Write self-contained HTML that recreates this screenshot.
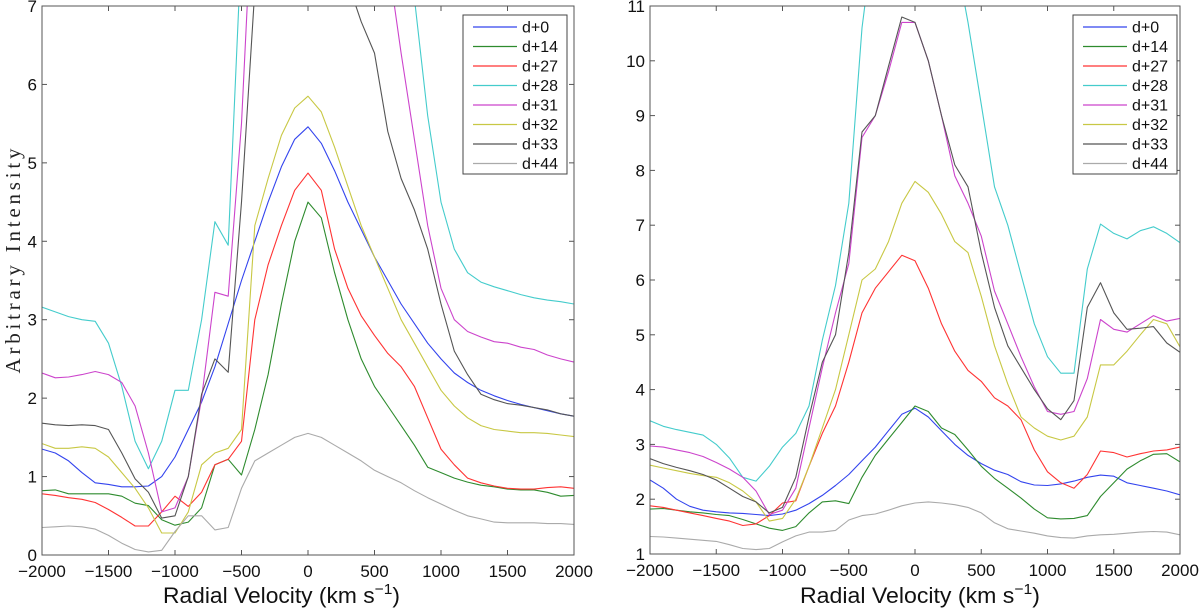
<!DOCTYPE html>
<html><head><meta charset="utf-8"><style>
html,body{margin:0;padding:0;background:#fff;}
svg{display:block;font-family:"Liberation Sans",sans-serif;}
</style></head><body>
<svg id="chart" width="1200" height="611" viewBox="0 0 1200 611" xmlns="http://www.w3.org/2000/svg">
<text x="0" y="0" transform="translate(20,261) rotate(-90)" text-anchor="middle" font-family="Liberation Serif, serif" font-size="21" textLength="225" lengthAdjust="spacing" fill="#222">Arbitrary Intensity</text>
<text x="163" y="603" font-size="22" textLength="237" lengthAdjust="spacingAndGlyphs" fill="#111">Radial Velocity (km s<tspan dy="-9" font-size="15">−1</tspan><tspan dy="9">)</tspan></text>
<text x="800" y="603" font-size="22" textLength="240" lengthAdjust="spacingAndGlyphs" fill="#111">Radial Velocity (km s<tspan dy="-9" font-size="15">−1</tspan><tspan dy="9">)</tspan></text>
</svg>
<script>
const velocities=[-2000,-1900,-1800,-1700,-1600,-1500,-1400,-1300,-1200,-1100,-1000,-900,-800,-700,-600,-500,-400,-300,-200,-100,0,100,200,300,400,500,600,700,800,900,1000,1100,1200,1300,1400,1500,1600,1700,1800,1900,2000];
const seriesLabels=["d+0","d+14","d+27","d+28","d+31","d+32","d+33","d+44"];
const xTicks=[-2000,-1500,-1000,-500,0,500,1000,1500,2000];
const yTicksLeft=[0,1,2,3,4,5,6,7];
const yTicksRight=[1,2,3,4,5,6,7,8,9,10,11];
// left panel
const L_d0=[1.35,1.3,1.2,1.05,0.92,0.9,0.87,0.87,0.88,1.0,1.25,1.6,1.95,2.4,2.95,3.5,4.0,4.5,4.95,5.3,5.46,5.25,4.9,4.5,4.15,3.8,3.5,3.2,2.95,2.7,2.5,2.32,2.2,2.1,2.03,1.97,1.92,1.88,1.84,1.8,1.77];
const L_d14=[0.82,0.83,0.78,0.78,0.78,0.78,0.75,0.66,0.63,0.45,0.38,0.42,0.6,1.15,1.22,1.02,1.6,2.3,3.2,4.0,4.5,4.3,3.6,3.0,2.5,2.15,1.9,1.65,1.4,1.12,1.05,0.98,0.93,0.89,0.87,0.84,0.83,0.83,0.8,0.75,0.76];
const L_d27=[0.78,0.76,0.73,0.71,0.67,0.58,0.48,0.37,0.37,0.55,0.75,0.62,0.8,1.15,1.22,1.45,3.0,3.7,4.2,4.65,4.87,4.65,3.9,3.4,3.05,2.8,2.57,2.4,2.15,1.75,1.35,1.15,0.98,0.92,0.88,0.85,0.84,0.84,0.86,0.87,0.85];
const L_d28=[3.16,3.1,3.04,3.0,2.98,2.7,2.15,1.45,1.1,1.45,2.1,2.1,3.0,4.25,3.95,7.8,10,11,12,12,12,12,12,11.5,11,10.5,10,9,7.1,5.6,4.5,3.9,3.6,3.48,3.42,3.37,3.32,3.28,3.25,3.23,3.2];
const L_d31=[2.32,2.26,2.27,2.3,2.34,2.3,2.2,1.9,1.3,0.55,0.6,1.0,2.0,3.35,3.3,5.5,9,11,12,12,12,12,11.5,11,10,9,7.6,6.4,5.3,4.2,3.4,3.0,2.85,2.78,2.72,2.7,2.65,2.62,2.55,2.5,2.46];
const L_d32=[1.42,1.36,1.36,1.38,1.36,1.25,1.05,0.85,0.6,0.28,0.28,0.55,1.15,1.3,1.36,1.6,4.2,4.8,5.35,5.7,5.85,5.65,5.2,4.7,4.2,3.8,3.4,3.0,2.7,2.4,2.1,1.9,1.75,1.65,1.6,1.58,1.56,1.56,1.55,1.53,1.51];
const L_d33=[1.68,1.66,1.65,1.66,1.65,1.6,1.3,0.97,0.8,0.47,0.5,1.0,2.05,2.5,2.33,4.5,7.2,9,10,10,10,9,8,7.3,6.8,6.4,5.4,4.8,4.4,3.9,3.2,2.6,2.3,2.05,1.98,1.93,1.91,1.88,1.85,1.8,1.77];
const L_d44=[0.35,0.36,0.37,0.36,0.33,0.25,0.15,0.07,0.04,0.06,0.3,0.5,0.5,0.32,0.35,0.85,1.2,1.3,1.4,1.5,1.55,1.5,1.4,1.3,1.2,1.08,1.0,0.92,0.82,0.73,0.65,0.57,0.5,0.46,0.42,0.41,0.41,0.41,0.4,0.4,0.39];
// right panel
const R_d0=[2.35,2.2,2.0,1.87,1.8,1.77,1.75,1.74,1.72,1.7,1.73,1.8,1.92,2.07,2.25,2.45,2.7,2.95,3.25,3.55,3.66,3.5,3.25,3.0,2.8,2.65,2.53,2.45,2.32,2.26,2.25,2.28,2.33,2.4,2.44,2.42,2.3,2.25,2.2,2.15,2.08];
const R_d14=[1.82,1.83,1.8,1.77,1.75,1.72,1.7,1.63,1.55,1.47,1.43,1.5,1.75,1.95,1.97,1.92,2.4,2.8,3.1,3.4,3.7,3.6,3.3,3.18,2.9,2.6,2.38,2.2,2.02,1.82,1.66,1.64,1.65,1.7,2.05,2.3,2.55,2.7,2.82,2.83,2.68];
const R_d27=[1.88,1.85,1.8,1.75,1.7,1.65,1.6,1.52,1.55,1.7,1.93,1.97,2.6,3.2,3.7,4.5,5.4,5.85,6.15,6.45,6.35,5.85,5.2,4.7,4.35,4.15,3.85,3.7,3.45,2.9,2.5,2.3,2.2,2.45,2.88,2.85,2.77,2.83,2.88,2.9,2.95];
const R_d28=[3.43,3.33,3.27,3.22,3.17,3.0,2.75,2.4,2.33,2.6,2.95,3.2,3.7,4.9,5.9,7.4,10.6,12.5,13,13,13,13,13,12,10.7,9.2,7.7,7.0,6.1,5.2,4.6,4.3,4.3,6.2,7.02,6.85,6.75,6.9,6.97,6.85,6.68];
const R_d31=[2.97,2.95,2.9,2.85,2.78,2.67,2.55,2.4,2.15,1.72,1.8,2.2,3.3,4.4,5.4,6.3,8.6,9.0,9.8,10.7,10.7,10.0,9.0,7.9,7.4,6.8,5.8,5.2,4.6,4.05,3.6,3.55,3.6,4.2,5.28,5.1,5.05,5.2,5.35,5.25,5.3];
const R_d32=[2.62,2.57,2.52,2.47,2.43,2.4,2.3,2.15,1.95,1.6,1.65,2.0,2.6,3.3,4.0,5.0,6.0,6.2,6.7,7.4,7.8,7.6,7.2,6.7,6.5,5.7,4.8,4.1,3.5,3.3,3.15,3.08,3.15,3.5,4.45,4.45,4.7,5.0,5.28,5.2,4.78];
const R_d33=[2.74,2.65,2.58,2.52,2.45,2.35,2.2,2.05,1.95,1.75,1.85,2.4,3.5,4.5,5.0,6.5,8.7,9.0,9.9,10.8,10.7,10.0,9.0,8.1,7.7,6.5,5.5,4.8,4.4,4.0,3.65,3.45,3.8,5.5,5.95,5.4,5.1,5.12,5.15,4.85,4.68];
const R_d44=[1.32,1.31,1.29,1.27,1.25,1.23,1.17,1.1,1.08,1.1,1.22,1.33,1.4,1.4,1.43,1.62,1.7,1.73,1.8,1.88,1.93,1.95,1.93,1.9,1.85,1.75,1.57,1.46,1.42,1.38,1.33,1.3,1.29,1.33,1.35,1.36,1.38,1.4,1.41,1.4,1.35];

const colors=["#3344ee","#2e8b2e","#ff3333","#44cccc","#cc44cc","#c8c844","#555555","#aaaaaa"];
const svg=document.getElementById('chart');
const NS="http://www.w3.org/2000/svg";
function mk(tag,attrs){const e=document.createElementNS(NS,tag);for(const k in attrs)e.setAttribute(k,attrs[k]);return e;}

function panel(id,x0,x1,y0,y1,yMin,yMax,yTicks,series,lgX){
  const g=mk('g',{});
  
  
  svg.appendChild(g);
  const xs=v=>x0+(v+2000)/4000*(x1-x0);
  const ys=v=>y1-(v-yMin)/(yMax-yMin)*(y1-y0);
  const clip=mk('clipPath',{id:id+'-clip'});
  clip.appendChild(mk('rect',{x:x0,y:y0,width:x1-x0,height:y1-y0}));
  g.appendChild(clip);
  const lines=mk('g',{'clip-path':'url(#'+id+'-clip)'});
  g.appendChild(lines);
  series.forEach((s,i)=>{
    const d=velocities.map((v,j)=>(j?'L':'M')+xs(v).toFixed(1)+','+ys(s[j]).toFixed(1)).join('');
    const p=mk('path',{d:d,fill:'none',stroke:colors[i],'stroke-width':1.1,'stroke-linejoin':'round'});
    
    
    lines.appendChild(p);
  });
  const frame=mk('rect',{x:x0,y:y0,width:x1-x0,height:y1-y0,fill:'none',stroke:'#555','stroke-width':1});
  
  
  g.appendChild(frame);
  xTicks.forEach(t=>{
    const x=xs(t);
    g.appendChild(mk('line',{x1:x,x2:x,y1:y1,y2:y1-5,stroke:'#555'}));
    g.appendChild(mk('line',{x1:x,x2:x,y1:y0,y2:y0+5,stroke:'#555'}));
    const tx=mk('text',{x:x,y:y1+22,'text-anchor':'middle','font-size':17,fill:'#111'});
    
    
    tx.textContent=(t<0?'\u2212':'')+Math.abs(t);
    g.appendChild(tx);
  });
  yTicks.forEach(t=>{
    const y=ys(t);
    g.appendChild(mk('line',{x1:x0,x2:x0+5,y1:y,y2:y,stroke:'#555'}));
    g.appendChild(mk('line',{x1:x1,x2:x1-5,y1:y,y2:y,stroke:'#555'}));
    const tx=mk('text',{x:x0-5,y:y+6,'text-anchor':'end','font-size':17,fill:'#111'});
    
    
    tx.textContent=t;
    g.appendChild(tx);
  });
  const lg=mk('g',{});
  
  
  g.appendChild(lg);
  lg.appendChild(mk('rect',{x:lgX,y:15,width:104,height:159,fill:'#fff',stroke:'#444','stroke-width':1}));
  seriesLabels.forEach((l,i)=>{
    const y=27+i*19.5;
    const e=mk('g',{});
    
    
    e.appendChild(mk('line',{x1:lgX+10,x2:lgX+54,y1:y,y2:y,stroke:colors[i],'stroke-width':1.3}));
    const t=mk('text',{x:lgX+59,y:y+5.5,'font-size':16,fill:'#111'});
    t.textContent=l;
    e.appendChild(t);
    lg.appendChild(e);
  });
}
panel('left',42,574,6,555,0,7,yTicksLeft,[L_d0,L_d14,L_d27,L_d28,L_d31,L_d32,L_d33,L_d44],463);
panel('right',650,1180,6,554,1,11,yTicksRight,[R_d0,R_d14,R_d27,R_d28,R_d31,R_d32,R_d33,R_d44],1073);
</script>
</body></html>
